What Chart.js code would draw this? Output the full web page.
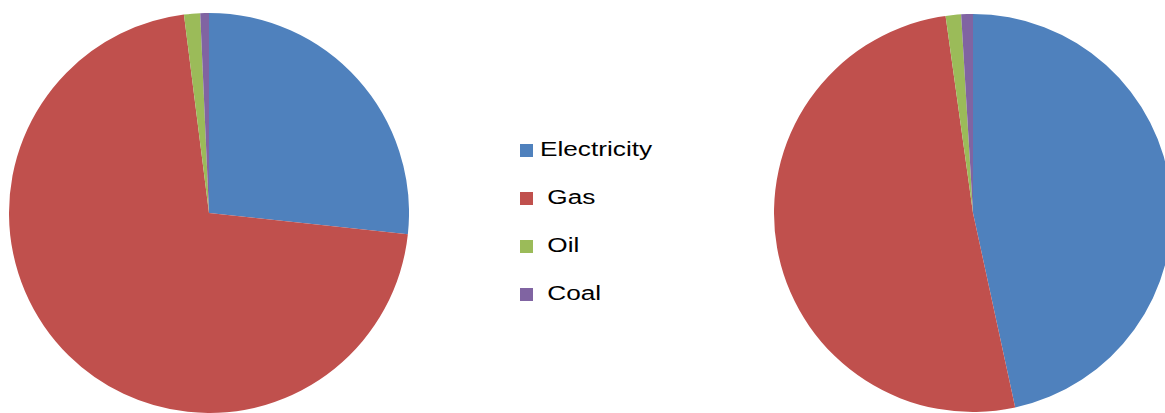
<!DOCTYPE html>
<html>
<head>
<meta charset="utf-8">
<script src="https://cdn.jsdelivr.net/npm/chart.js@4/dist/chart.umd.min.js"></script>
<style>
    html, body {
        margin: 0;
        padding: 0;
        background: #ffffff;
    }
    body {
        width: 1165px;
        height: 413px;
        position: relative;
        overflow: hidden;
    }
    .pie-box {
        position: absolute;
    }
    #legend {
        position: absolute;
        left: 520px;
        top: 136px;
        font-family: "Liberation Sans", Arial, sans-serif;
        font-size: 20px;
        color: #000000;
    }
    .legend-item {
        position: relative;
        height: 48px;
    }
    .legend-color {
        position: absolute;
        left: 0;
        top: 8px;
        width: 13px;
        height: 13px;
    }
    .legend-text {
        position: absolute;
        left: 20px;
        top: 2px;
        white-space: pre;
        transform: scaleX(1.31);
        transform-origin: left center;
    }
</style>
</head>
<body>
<div class="pie-box" style="left: 9px; top: 13px; width: 400px; height: 400px;">
    <canvas id="pie-left" width="400" height="400"></canvas>
</div>
<div id="legend"></div>
<div class="pie-box" style="left: 774px; top: 14px; width: 398px; height: 398px;">
    <canvas id="pie-right" width="398" height="398"></canvas>
</div>

<script>
// Energy share by fuel (%), two breakdowns
const categories = ['Electricity', 'Gas', 'Oil', 'Coal'];
const leftValues = [26.7, 71.3, 1.3, 0.7];
const rightValues = [46.6, 51.2, 1.25, 0.95];
const colors = ['#4F81BD', '#C0504D', '#9BBB59', '#8064A2'];

/**
 * Build one pie from a value list
 */
function makePie(canvasId, values) {
    const ctx = document.getElementById(canvasId).getContext('2d');
    return new Chart(ctx, {
        type: 'pie',
        data: {
            labels: categories,
            datasets: [{
                data: values,
                backgroundColor: colors,
                borderWidth: 0
            }]
        },
        options: {
            responsive: false,
            animation: false,
            layout: {
                padding: 0
            },
            plugins: {
                legend: {
                    display: false
                },
                tooltip: {
                    enabled: false
                }
            }
        }
    });
}

makePie('pie-left', leftValues);
makePie('pie-right', rightValues);

// Shared legend between the two pies
const legend = document.getElementById('legend');
legend.innerHTML = categories.map((name, i) => `
    <div class="legend-item">
        <div class="legend-color" style="background-color: ${colors[i]}"></div>
        <span class="legend-text">${i > 0 ? ' ' : ''}${name}</span>
    </div>
`).join('');
</script>
</body>
</html>
